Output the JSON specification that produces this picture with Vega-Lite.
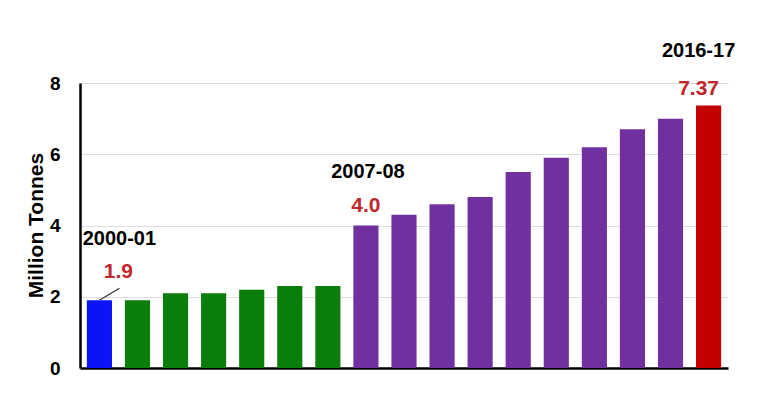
{
  "$schema": "https://vega.github.io/schema/vega-lite/v6.json",
  "width": 648,
  "height": 285,
  "autosize": {"type": "none"},
  "padding": {"left": 80, "top": 83, "right": 29, "bottom": 44},
  "background": "white",
  "config": {
    "view": {"stroke": null},
    "font": "Liberation Sans"
  },
  "data": {
    "values": [
      {"year": "2000-01", "value": 1.9, "group": "first", "label": "1.9", "note": "first"},
      {"year": "2001-02", "value": 1.9, "group": "early"},
      {"year": "2002-03", "value": 2.1, "group": "early"},
      {"year": "2003-04", "value": 2.1, "group": "early"},
      {"year": "2004-05", "value": 2.2, "group": "early"},
      {"year": "2005-06", "value": 2.3, "group": "early"},
      {"year": "2006-07", "value": 2.3, "group": "early"},
      {"year": "2007-08", "value": 4.0, "group": "mid", "label": "4.0", "note": "mid"},
      {"year": "2008-09", "value": 4.3, "group": "mid"},
      {"year": "2009-10", "value": 4.6, "group": "mid"},
      {"year": "2010-11", "value": 4.8, "group": "mid"},
      {"year": "2011-12", "value": 5.5, "group": "mid"},
      {"year": "2012-13", "value": 5.9, "group": "mid"},
      {"year": "2013-14", "value": 6.2, "group": "mid"},
      {"year": "2014-15", "value": 6.7, "group": "mid"},
      {"year": "2015-16", "value": 7.0, "group": "mid"},
      {"year": "2016-17", "value": 7.37, "group": "last", "label": "7.37", "note": "last"}
    ]
  },
  "encoding": {
    "x": {
      "field": "year",
      "type": "nominal",
      "sort": null,
      "scale": {"paddingInner": 0.34, "paddingOuter": 0.18},
      "axis": {"labels": false, "ticks": false, "title": null, "domain": true, "domainColor": "#000000", "domainWidth": 2.5}
    },
    "y": {
      "field": "value",
      "type": "quantitative",
      "scale": {"domain": [0, 8], "nice": false},
      "axis": {
        "values": [0, 2, 4, 6, 8],
        "title": "Million Tonnes",
        "titleFontSize": 21,
        "titleFontWeight": "bold",
        "titleColor": "#000000",
        "titleX": -44,
        "titleY": 142,
        "titleAngle": -90,
        "titleAlign": "center",
        "titleBaseline": "middle",
        "labelFontSize": 19,
        "labelFontWeight": "bold",
        "labelColor": "#000000",
        "labelPadding": 20,
        "ticks": false,
        "domainColor": "#000000",
        "domainWidth": 2.5,
        "grid": true,
        "gridColor": "#dcdcdc",
        "gridWidth": 1
      }
    }
  },
  "layer": [
    {
      "mark": {"type": "bar"},
      "encoding": {
        "color": {
          "field": "group",
          "type": "nominal",
          "scale": {"domain": ["first", "early", "mid", "last"], "range": ["#0a14f5", "#0b7d0b", "#7030a0", "#c40000"]},
          "legend": null
        }
      }
    },
    {
      "transform": [{"filter": "datum.note == 'first'"}],
      "mark": {"type": "rule", "color": "#333333", "strokeWidth": 1.2, "x2Offset": 20, "y2Offset": -12},
      "encoding": {
        "x2": {"field": "year"},
        "y2": {"field": "value"}
      }
    },
    {
      "transform": [{"filter": "datum.note == 'first'"}],
      "layer": [
        {"mark": {"type": "text", "fontSize": 21, "fontWeight": "bold", "color": "#c0262c", "dx": 19, "dy": -28, "baseline": "middle"}, "encoding": {"text": {"field": "label"}}},
        {"mark": {"type": "text", "fontSize": 20, "fontWeight": "bold", "color": "#000000", "dx": 20, "dy": -61, "baseline": "middle"}, "encoding": {"text": {"field": "year"}}}
      ]
    },
    {
      "transform": [{"filter": "datum.note == 'mid'"}],
      "layer": [
        {"mark": {"type": "text", "fontSize": 21, "fontWeight": "bold", "color": "#c0262c", "dx": 0, "dy": -20, "baseline": "middle"}, "encoding": {"text": {"field": "label"}}},
        {"mark": {"type": "text", "fontSize": 20, "fontWeight": "bold", "color": "#000000", "dx": 2, "dy": -54, "baseline": "middle"}, "encoding": {"text": {"field": "year"}}}
      ]
    },
    {
      "transform": [{"filter": "datum.note == 'last'"}],
      "layer": [
        {"mark": {"type": "text", "fontSize": 21, "fontWeight": "bold", "color": "#c0262c", "dx": -10, "dy": -16, "baseline": "middle"}, "encoding": {"text": {"field": "label"}}},
        {"mark": {"type": "text", "fontSize": 20, "fontWeight": "bold", "color": "#000000", "dx": -10, "dy": -54, "baseline": "middle"}, "encoding": {"text": {"field": "year"}}}
      ]
    }
  ]
}
